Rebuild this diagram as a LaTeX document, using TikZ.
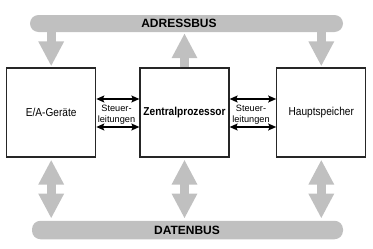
\documentclass[tikz,border=0pt]{standalone}
\usepackage{fontspec}
\setmainfont{Liberation Sans}
\newfontfamily\narrowsans[FakeStretch=0.88]{Liberation Sans}
\usetikzlibrary{arrows.meta}
\definecolor{busgray}{HTML}{C0C0C0}
\definecolor{boxline}{HTML}{262626}
\tikzset{
  bus/.style={fill=busgray, draw=none, inner sep=0pt, rounded corners=8.5pt},
  buslabel/.style={font=\fontsize{12}{14}\selectfont\bfseries, inner sep=0pt},
  unit/.style={draw=boxline, line width=1.3pt, minimum width=89pt, minimum height=89pt,
    inner sep=0pt, font=\narrowsans\fontsize{11.5}{13}\selectfont},
  busarrow/.style={busgray, line width=9pt},
  tipdown/.style={-{Triangle[width=24pt,length=25pt]}},
  tipboth/.style={{Triangle[width=24pt,length=25pt]}-{Triangle[width=24pt,length=25pt]}},
  ctrl/.style={line width=1.2pt, {Stealth[length=8pt,width=7pt,inset=1.5pt]}-{Stealth[length=8pt,width=7pt,inset=1.5pt]}},
  ctrllabel/.style={font=\fontsize{9.2}{11}\selectfont, align=center, inner sep=0pt}
}
\begin{document}
\begin{tikzpicture}[x=1pt, y=-1pt]
  \useasboundingbox (0,0) rectangle (373,249);

  % address and data bus bars
  \node[bus, minimum width=313pt, minimum height=17pt] (adr) at (186.5,23.5) {};
  \node[buslabel] (adrtext) at (179,23.5) {ADRESSBUS};
  \node[bus, minimum width=311pt, minimum height=18.5pt] (dat) at (187.5,230) {};
  \node[buslabel] (dattext) at (187,230) {DATENBUS};

  % functional units
  \node[unit] (io) at (51.2,112.5) {E/A-Geräte};
  \node[unit] (cpu) at (184.5,112.5) {\bfseries Zentralprozessor};
  \node[unit] (mem) at (321.3,112.5) {Hauptspeicher};

  % address bus connections
  \draw[busarrow, tipdown] (io.north |- adr.south) -- ([yshift=1pt]io.north);
  \draw[busarrow, tipdown] (cpu.north) -- ([yshift=-1pt]cpu.north |- adr.south);
  \draw[busarrow, tipdown] (mem.north |- adr.south) -- ([yshift=1pt]mem.north);

  % data bus connections
  \draw[busarrow, tipboth] ([yshift=-2pt]io.south) -- ([yshift=2pt]io.south |- dat.north);
  \draw[busarrow, tipboth] ([yshift=-2pt]cpu.south) -- ([yshift=2pt]cpu.south |- dat.north);
  \draw[busarrow, tipboth] ([yshift=-2pt]mem.south) -- ([yshift=2pt]mem.south |- dat.north);

  % control lines
  \coordinate (rowa) at (0,99);
  \coordinate (rowb) at (0,127);
  \draw[ctrl] (io.east |- rowa) -- (cpu.west |- rowa);
  \draw[ctrl] (io.east |- rowb) -- (cpu.west |- rowb);
  \draw[ctrl] (cpu.east |- rowa) -- (mem.west |- rowa);
  \draw[ctrl] (cpu.east |- rowb) -- (mem.west |- rowb);
  \node[ctrllabel] (ctrlleft) at (116.5,114.5) {Steuer-\\leitungen};
  \node[ctrllabel] (ctrlright) at (251,114.5) {Steuer-\\leitungen};
\end{tikzpicture}
\end{document}
